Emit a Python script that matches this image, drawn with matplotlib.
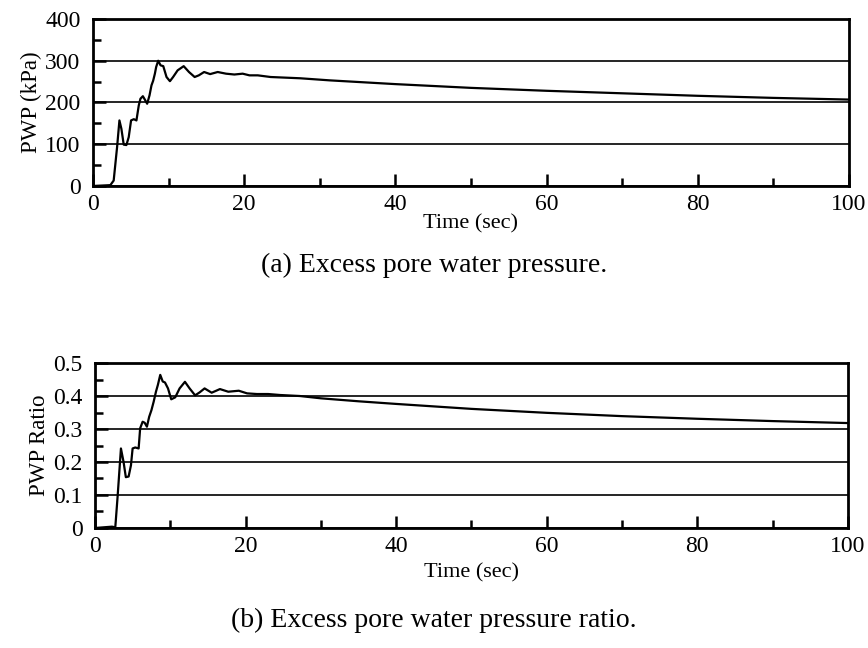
'''excess pore water pressure and ratio time histories'''

import numpy as np
import matplotlib.pyplot as plt
from matplotlib.ticker import MultipleLocator

plt.rcParams['font.family'] = ['Liberation Serif', 'DejaVu Serif']

# values
time_pwp = [0, 2.3, 2.74, 3.19, 3.5, 3.76, 4.07, 4.42, 4.73, 5.04, 5.4, 5.75, 6.06, 6.28,
            6.6, 6.86, 7.17, 7.48, 7.74, 7.96, 8.19, 8.36, 8.63, 8.94, 9.3, 9.73, 10.18,
            10.6, 11.2, 12.0, 12.7, 13.45, 14.0, 14.7, 15.5, 16.5, 17.6, 18.7, 19.8, 20.7,
            21.8, 23.5, 27.4, 31.3, 40, 50, 60, 70, 80, 90, 100]
pwp = [0, 2, 13, 93, 157, 137, 99, 98, 117, 157, 160, 157, 193, 209,
       215, 207, 197, 217, 241, 252, 269, 285, 300, 289, 287, 261, 251,
       261, 277, 287, 273, 261, 265, 273, 268, 273, 269, 267, 269, 265,
       265, 261, 258, 253, 244, 235, 228, 222, 216, 211, 207]

time_ratio = [0, 2.26, 2.7, 3.0, 3.45, 3.8, 4.1, 4.47, 4.78, 5.0, 5.35, 5.8, 6.0, 6.33,
              6.6, 6.9, 7.2, 7.5, 7.8, 8.1, 8.36, 8.67, 9.0, 9.3, 9.7, 10.13, 10.66,
              11.24, 11.95, 12.57, 13.3, 13.9, 14.56, 15.5, 16.6, 17.7, 19.1, 20.2, 21.5,
              23.0, 24.6, 27.2, 30, 35, 40, 50, 60, 70, 80, 90, 100]
ratio = [0, 0.004, 0.002, 0.093, 0.241, 0.2, 0.154, 0.156, 0.19, 0.241, 0.244, 0.241,
         0.302, 0.322, 0.319, 0.307, 0.337, 0.357, 0.383, 0.413, 0.434, 0.464, 0.444,
         0.441, 0.423, 0.39, 0.396, 0.423, 0.443, 0.423, 0.402, 0.411, 0.423, 0.41,
         0.421, 0.413, 0.416, 0.408, 0.406, 0.406, 0.403, 0.40, 0.393, 0.384, 0.376,
         0.361, 0.349, 0.339, 0.331, 0.324, 0.318]

fig = plt.figure(figsize=(8.68, 6.48), dpi=100)
ax1 = fig.add_axes([0.1071, 0.713, 0.871, 0.2577])
ax2 = fig.add_axes([0.1094, 0.1852, 0.8675, 0.2546])

def style(ax, ymax, ymajor):
    ax.set_xlim(0, 100)
    ax.set_ylim(0, ymax)
    ax.xaxis.set_major_locator(MultipleLocator(20))
    ax.xaxis.set_minor_locator(MultipleLocator(10))
    ax.yaxis.set_major_locator(MultipleLocator(ymajor))
    ax.yaxis.set_minor_locator(MultipleLocator(ymajor / 2))
    ax.tick_params(which='both', direction='in', top=False, right=False, labelsize=17, width=1.8)
    ax.tick_params(which='major', length=9, pad=6)
    ax.tick_params(which='minor', length=6)
    ax.tick_params(axis='y', which='major', pad=9)
    ax.yaxis.grid(True, color='black', linewidth=1.2)
    for sp in ax.spines.values():
        sp.set_linewidth(2)

ax1.plot(time_pwp, pwp, color='black', linewidth=1.6)
style(ax1, 400, 100)
ax1.set_xlabel("Time (sec)", fontsize=16, labelpad=-1)
ax1.set_ylabel("PWP (kPa)", fontsize=16.5, labelpad=2)

ax2.plot(time_ratio, ratio, color='black', linewidth=1.6)
style(ax2, 0.5, 0.1)
ax2.set_yticks([0, 0.1, 0.2, 0.3, 0.4, 0.5])
ax2.set_yticklabels(['0', '0.1', '0.2', '0.3', '0.4', '0.5'])
ax2.set_xlabel("Time (sec)", fontsize=16, labelpad=4)
ax2.set_ylabel("PWP Ratio", fontsize=16.5, labelpad=2)

fig.text(0.5, 0.591, "(a) Excess pore water pressure.", fontsize=20, ha='center', va='center')
fig.text(0.5, 0.043, "(b) Excess pore water pressure ratio.", fontsize=20, ha='center', va='center')

plt.savefig("out.png", dpi=100)
